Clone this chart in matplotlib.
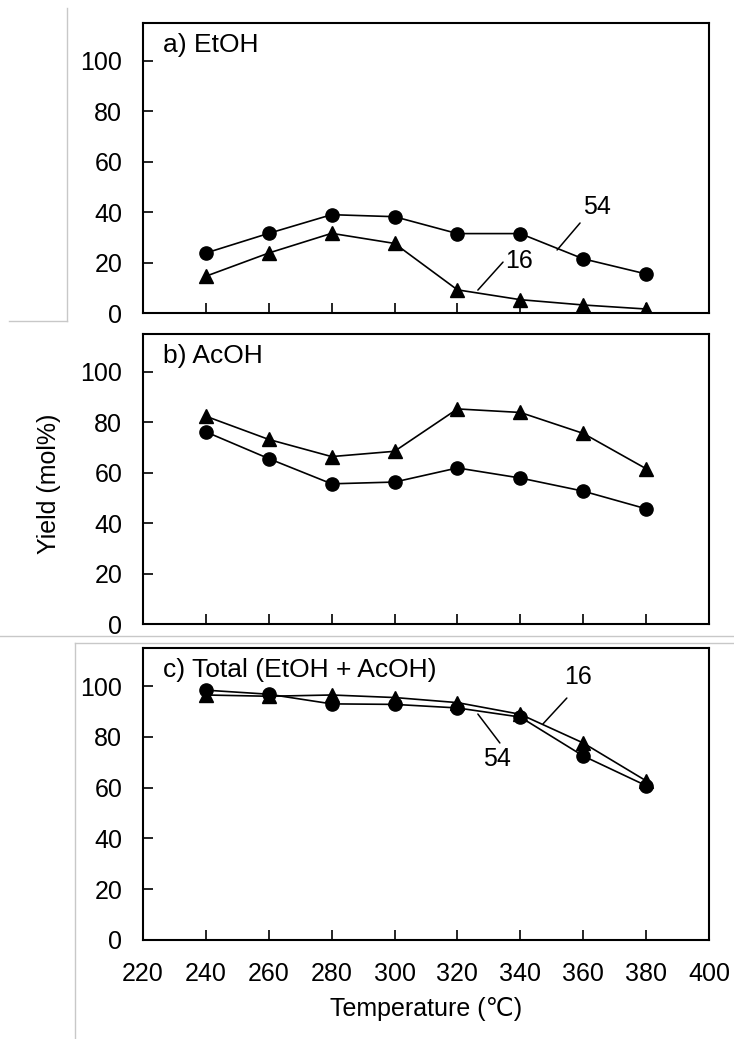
import matplotlib
matplotlib.use("Agg")
import matplotlib.pyplot as plt
from matplotlib.lines import Line2D

plt.rcParams['font.family'] = ['Liberation Sans', 'DejaVu Sans']
plt.rcParams['font.size'] = 18

# Temperatures (°C)
temps = [240, 260, 280, 300, 320, 340, 360, 380]

# a) EtOH yield (mol%)
etoh_54 = [23.8, 31.6, 39.0, 38.2, 31.5, 31.5, 21.5, 15.5]
etoh_16 = [14.6, 23.8, 31.6, 27.6, 9.2, 5.3, 3.2, 1.6]

# b) AcOH yield (mol%)
acoh_54 = [76.2, 65.6, 55.6, 56.3, 61.9, 57.9, 52.7, 45.7]
acoh_16 = [82.4, 73.2, 66.4, 68.5, 85.3, 83.9, 75.6, 61.6]

# c) Total yield (mol%)
total_54 = [98.4, 96.8, 93.0, 92.8, 91.4, 87.8, 72.5, 60.8]
total_16 = [96.5, 96.0, 96.5, 95.5, 93.5, 88.9, 77.6, 62.7]

x_ticks = [220, 240, 260, 280, 300, 320, 340, 360, 380, 400]
y_ticks = [0, 20, 40, 60, 80, 100]

fig = plt.figure(figsize=(7.34, 10.39), dpi=100)

# axes rectangles [left, bottom, width, height] in figure fractions
rects = [
    [0.1948, 0.6987, 0.7711, 0.2792],
    [0.1948, 0.3994, 0.7711, 0.2791],
    [0.1948, 0.0953, 0.7711, 0.2810],
]
panels = [
    ("a) EtOH", etoh_54, etoh_16),
    ("b) AcOH", acoh_54, acoh_16),
    ("c) Total (EtOH + AcOH)", total_54, total_16),
]

axes = []
for rect, (title, s54, s16) in zip(rects, panels):
    ax = fig.add_axes(rect)
    ax.plot(temps, s54, color='black', lw=1.2, marker='o', ms=9.5,
            markerfacecolor='black', markeredgecolor='black')
    ax.plot(temps, s16, color='black', lw=1.2, marker='^', ms=9.5,
            markerfacecolor='black', markeredgecolor='black')
    ax.set_xlim(220, 400)
    ax.set_ylim(0, 115)
    ax.set_yticks(y_ticks)
    ax.set_xticks(x_ticks)
    ax.tick_params(axis='y', direction='in', length=7, width=1.2, pad=15)
    ax.tick_params(axis='x', direction='in', length=7, width=1.2, pad=15.5)
    for sp in ax.spines.values():
        sp.set_linewidth(1.5)
    ax.text(0.035, 0.965, title, transform=ax.transAxes, ha='left', va='top',
            fontsize=19)
    axes.append(ax)

# only the bottom panel has x tick labels
for ax in axes[:2]:
    ax.tick_params(axis='x', labelbottom=False)
axes[2].set_xlabel("Temperature (℃)", labelpad=8)

fig.text(0.067, 0.534, "Yield (mol%)", rotation=90, ha='center', va='center')

# curve labels with leader lines
leader = dict(arrowstyle='-', color='black', lw=1.1, shrinkA=0, shrinkB=0)
ax = axes[0]
ax.text(364.4, 42, "54", ha='center', va='center')
ax.annotate("", xy=(351.7, 25.0), xytext=(359.0, 35.7), arrowprops=leader)
ax.text(339.5, 20.5, "16", ha='center', va='center')
ax.annotate("", xy=(326.5, 9.1), xytext=(334.5, 20.2), arrowprops=leader)
ax = axes[2]
ax.text(358.3, 103.5, "16", ha='center', va='center')
ax.annotate("", xy=(347.2, 85.1), xytext=(354.8, 95.3), arrowprops=leader)
ax.text(332.6, 71.4, "54", ha='center', va='center')
ax.annotate("", xy=(326.5, 89.0), xytext=(333.5, 77.6), arrowprops=leader)

# faint crop borders around the panels
gray = '#c8c8c8'
W, H = 734.0, 1039.0
borders = [
    ((67, 67), (8, 321)),
    ((9, 67), (321, 321)),
    ((0, 734), (636, 636)),
    ((75, 734), (643, 643)),
    ((75, 75), (643, 1039)),
]
for xs, ys in borders:
    fig.add_artist(Line2D([x / W for x in xs], [1 - y / H for y in ys],
                          color=gray, lw=1, transform=fig.transFigure))

fig.savefig("out.png", dpi=100)
